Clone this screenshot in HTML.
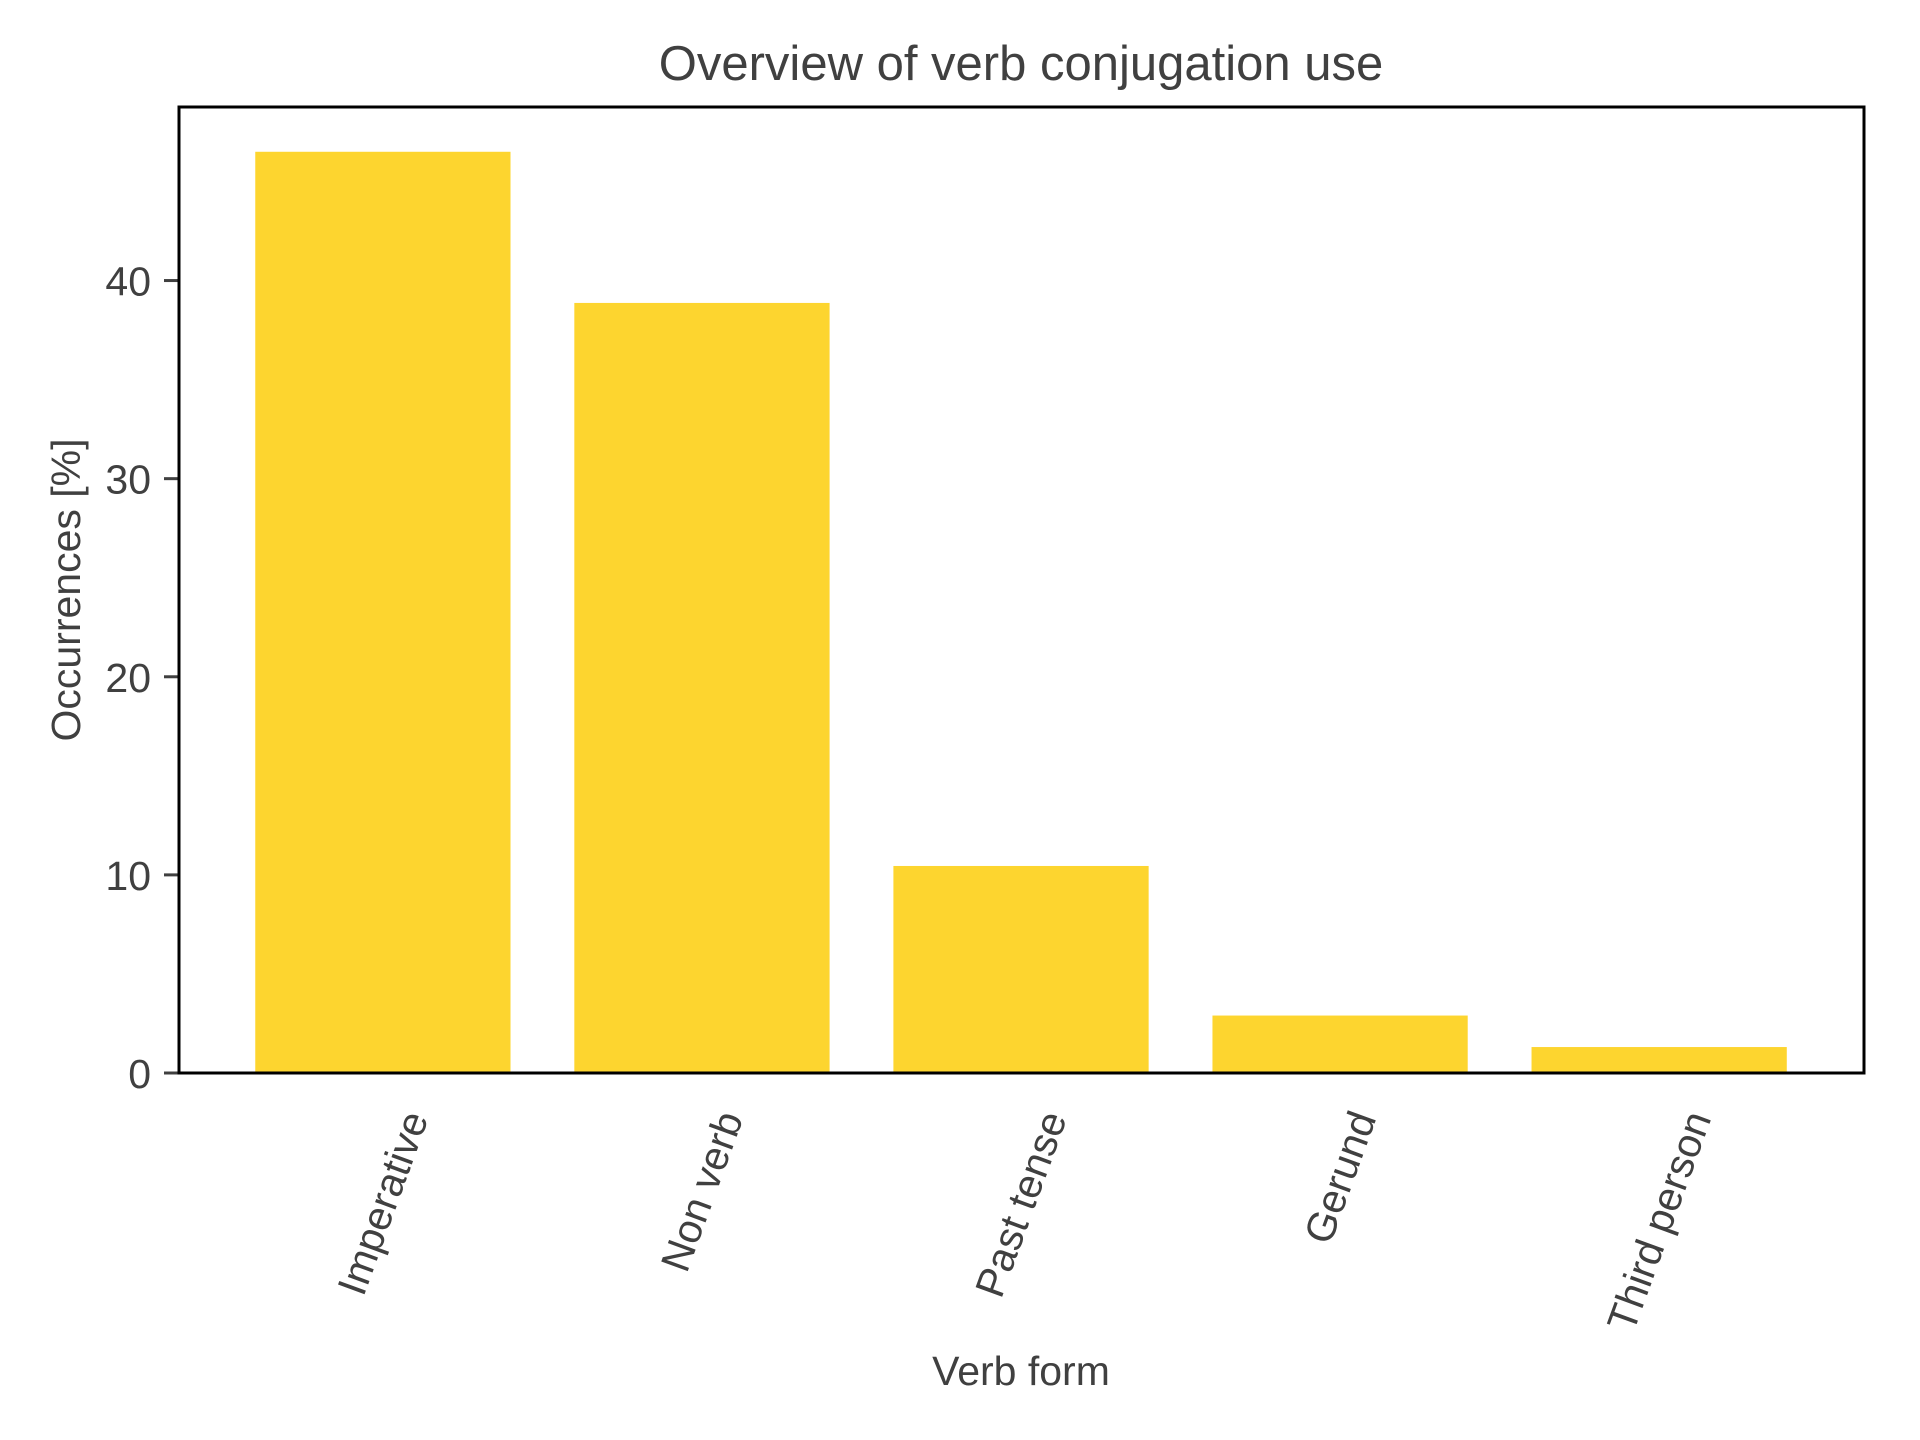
<!DOCTYPE html>
<html><head><meta charset="utf-8"><style>
html,body{margin:0;padding:0;background:#fff;}
svg{display:block;}
text{font-family:"Liberation Sans",Arial,sans-serif;fill:#404040;}
</style></head><body>
<svg id="chart" width="1920" height="1440" viewBox="0 0 1920 1440">
<rect width="1920" height="1440" fill="#fff"/>
<text x="1021" y="80" font-size="49" text-anchor="middle">Overview of verb conjugation use</text>
<g id="bars"></g>
<g id="yticks"></g>
<g id="xticks"></g>
<rect x="179" y="107" width="1685" height="966" fill="none" stroke="#000" stroke-width="3"/>
<text x="1021" y="1385" font-size="41" text-anchor="middle">Verb form</text>
<text transform="translate(80,590) rotate(-90)" font-size="41" text-anchor="middle">Occurrences [%]</text>
</svg>
<script>
const categories = ["Imperative","Non verb","Past tense","Gerund","Third person"];
const values = [46.5, 38.87, 10.45, 2.9, 1.31];
const yTicks = [0,10,20,30,40];
const yTickLabels = ["0","10","20","30","40"];

const NS="http://www.w3.org/2000/svg";
const PL=179,PR=1864,PT=107,PB=1073;
const yMin=0,yMax=48.76;
const xMin=-0.639,xMax=4.642;
function ys(v){return PB-(v-yMin)/(yMax-yMin)*(PB-PT);}
function xs(i){return PL+(i-xMin)/(xMax-xMin)*(PR-PL);}
const bw=0.8;
const gb=document.getElementById('bars');
values.forEach((v,i)=>{
  const r=document.createElementNS(NS,'rect');
  const x0=xs(i-bw/2),x1=xs(i+bw/2);
  r.setAttribute('x',x0);r.setAttribute('width',x1-x0);
  r.setAttribute('y',ys(v));r.setAttribute('height',ys(0)-ys(v));
  r.setAttribute('fill','#FDD52F');
  
  
  gb.appendChild(r);
});
const gy=document.getElementById('yticks');
yTicks.forEach((t,i)=>{
  const y=ys(t);
  const ln=document.createElementNS(NS,'line');
  ln.setAttribute('x1',PL-15);ln.setAttribute('x2',PL);ln.setAttribute('y1',y);ln.setAttribute('y2',y);
  ln.setAttribute('stroke','#404040');ln.setAttribute('stroke-width','3');
  
  
  gy.appendChild(ln);
  const tx=document.createElementNS(NS,'text');
  tx.setAttribute('x',PL-28);tx.setAttribute('y',y+15);
  tx.setAttribute('font-size','41');tx.setAttribute('text-anchor','end');
  tx.textContent=yTickLabels[i];
  
  
  gy.appendChild(tx);
});
const gx=document.getElementById('xticks');
const ang=70*Math.PI/180, fs=41, lh=fs*1.15, labelTop=1105;
categories.forEach((c,i)=>{
  const cx=xs(i);
  const tx=document.createElementNS(NS,'text');
  tx.setAttribute('font-size',fs);tx.setAttribute('text-anchor','middle');
  tx.setAttribute('dominant-baseline','central');
  tx.textContent=c;
  
  
  gx.appendChild(tx);
  const len=tx.getComputedTextLength();
  const H=len*Math.sin(ang)+lh*Math.cos(ang);
  const cy=labelTop+H/2;
  tx.setAttribute('transform','translate('+cx+','+cy+') rotate(-70)');
});
</script>
</body></html>
